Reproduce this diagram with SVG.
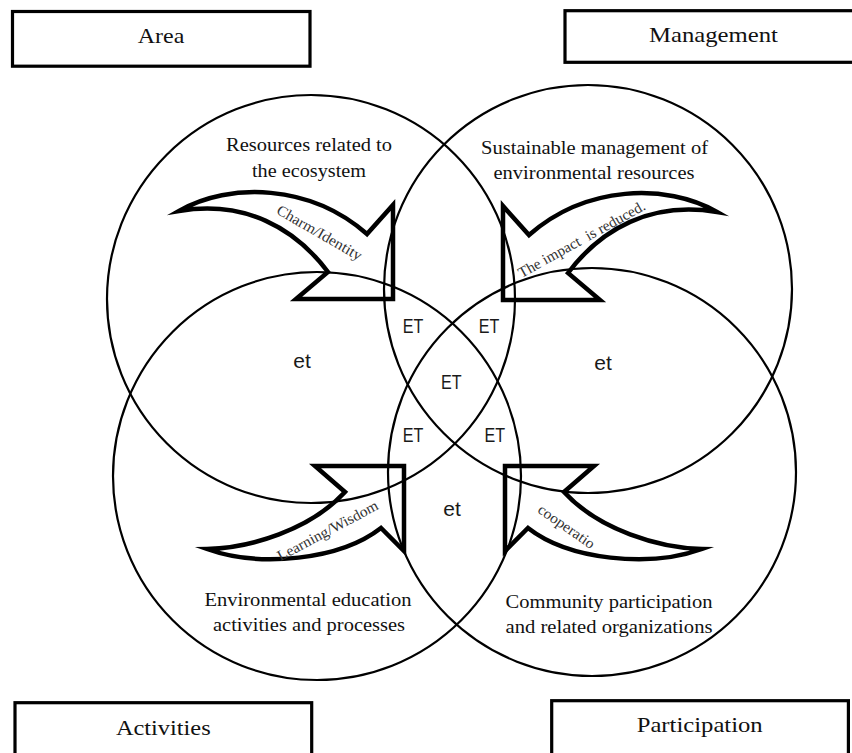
<svg xmlns="http://www.w3.org/2000/svg" width="852" height="753" viewBox="0 0 852 753">
<style>
.box{fill:#fff;stroke:#000;stroke-width:3.2}
.circ{fill:none;stroke:#000;stroke-width:2.2}
.arr{fill:none;stroke:#000;stroke-width:4.5;stroke-linejoin:miter;stroke-miterlimit:10}
.bl{font-family:"Liberation Serif","Times New Roman",serif;font-size:22px;fill:#111;text-anchor:middle}
.cl{font-family:"Liberation Serif","Times New Roman",serif;font-size:18.5px;fill:#111;text-anchor:middle}
.al{font-family:"Liberation Serif","Times New Roman",serif;font-size:15px;fill:#333;text-anchor:middle}
.et{font-family:"Liberation Sans",Arial,sans-serif;font-size:21px;fill:#1a1a1a;text-anchor:middle}
</style>
<rect width="852" height="753" fill="#fff"/>

<g id="box-area"><rect class="box" x="12.5" y="11.5" width="297.5" height="54.7"/><text class="bl" x="161" y="43" textLength="46.6" lengthAdjust="spacingAndGlyphs">Area</text></g>
<g id="box-management"><rect class="box" x="565" y="10.7" width="295" height="51.6"/><text class="bl" x="713.5" y="42" textLength="129" lengthAdjust="spacingAndGlyphs">Management</text></g>
<g id="box-activities"><rect class="box" x="15" y="702.7" width="296.7" height="70"/><text class="bl" x="163.3" y="735" textLength="94.7" lengthAdjust="spacingAndGlyphs">Activities</text></g>
<g id="box-participation"><rect class="box" x="551.7" y="700.7" width="296.7" height="70"/><text class="bl" x="699.7" y="732" textLength="126" lengthAdjust="spacingAndGlyphs">Participation</text></g>

<g id="circle-area"><circle class="circ" cx="311" cy="299" r="204"/>
<text class="cl" x="309" y="151" textLength="166" lengthAdjust="spacingAndGlyphs">Resources related to</text>
<text class="cl" x="309" y="177" textLength="114" lengthAdjust="spacingAndGlyphs">the ecosystem</text>
<text class="et" x="302" y="368">et</text></g>
<g id="circle-management"><circle class="circ" cx="588" cy="289" r="204"/>
<text class="cl" x="594.5" y="154" textLength="227" lengthAdjust="spacingAndGlyphs">Sustainable management of</text>
<text class="cl" x="594" y="179" textLength="201" lengthAdjust="spacingAndGlyphs">environmental resources</text>
<text class="et" x="603" y="370">et</text></g>
<g id="circle-activities"><circle class="circ" cx="317" cy="476" r="204"/>
<text class="cl" x="308" y="606" textLength="207" lengthAdjust="spacingAndGlyphs">Environmental education</text>
<text class="cl" x="309" y="631" textLength="192" lengthAdjust="spacingAndGlyphs">activities and processes</text></g>
<g id="circle-participation"><circle class="circ" cx="592" cy="472" r="204"/>
<text class="cl" x="609" y="608" textLength="207" lengthAdjust="spacingAndGlyphs">Community participation</text>
<text class="cl" x="609" y="633" textLength="207" lengthAdjust="spacingAndGlyphs">and related organizations</text></g>

<g id="overlaps">
<text class="et" x="413" y="333" textLength="20.6" lengthAdjust="spacingAndGlyphs">ET</text>
<text class="et" x="489" y="333" textLength="20.6" lengthAdjust="spacingAndGlyphs">ET</text>
<text class="et" x="451.3" y="389.3" textLength="20.6" lengthAdjust="spacingAndGlyphs">ET</text>
<text class="et" x="413" y="441.7" textLength="20.6" lengthAdjust="spacingAndGlyphs">ET</text>
<text class="et" x="494.7" y="441.7" textLength="20.6" lengthAdjust="spacingAndGlyphs">ET</text>
<text class="et" x="452" y="516">et</text>
</g>

<g id="connectors">
<g id="arrow-charm"><path class="arr" d="M179,211 C230,182 310,184 367,234 L393,205 L393,299 L296,299 L328,272 C295,228 245,200 179,211 Z"/>
<text class="al" transform="translate(317,237) rotate(30)" textLength="96" lengthAdjust="spacingAndGlyphs">Charm/Identity</text></g>
<g id="arrow-impact"><path class="arr" d="M717,212 C666,183 586,185 529,235 L503,206 L503,300 L600,300 L568,273 C601,229 651,201 717,212 Z"/>
<text class="al" xml:space="preserve" transform="translate(584,243.5) rotate(-29)" textLength="143" lengthAdjust="spacingAndGlyphs">The impact  is reduced.</text></g>
<g id="arrow-learning"><path class="arr" d="M207,549 C250,548 310,530 345,492 L315,466 L404,466 L404,551 L381,528 C340,560 260,568 207,549 Z"/>
<text class="al" transform="translate(330,535) rotate(-28)" textLength="112" lengthAdjust="spacingAndGlyphs">Learning/Wisdom</text></g>
<g id="arrow-cooperation"><path class="arr" d="M702,549 C659,548 599,530 564,492 L594,466 L505,466 L505,551 L528,528 C569,560 649,568 702,549 Z"/>
<text class="al" transform="translate(563.7,530.6) rotate(35)" textLength="66" lengthAdjust="spacingAndGlyphs">cooperatio</text></g>
</g>
</svg>
